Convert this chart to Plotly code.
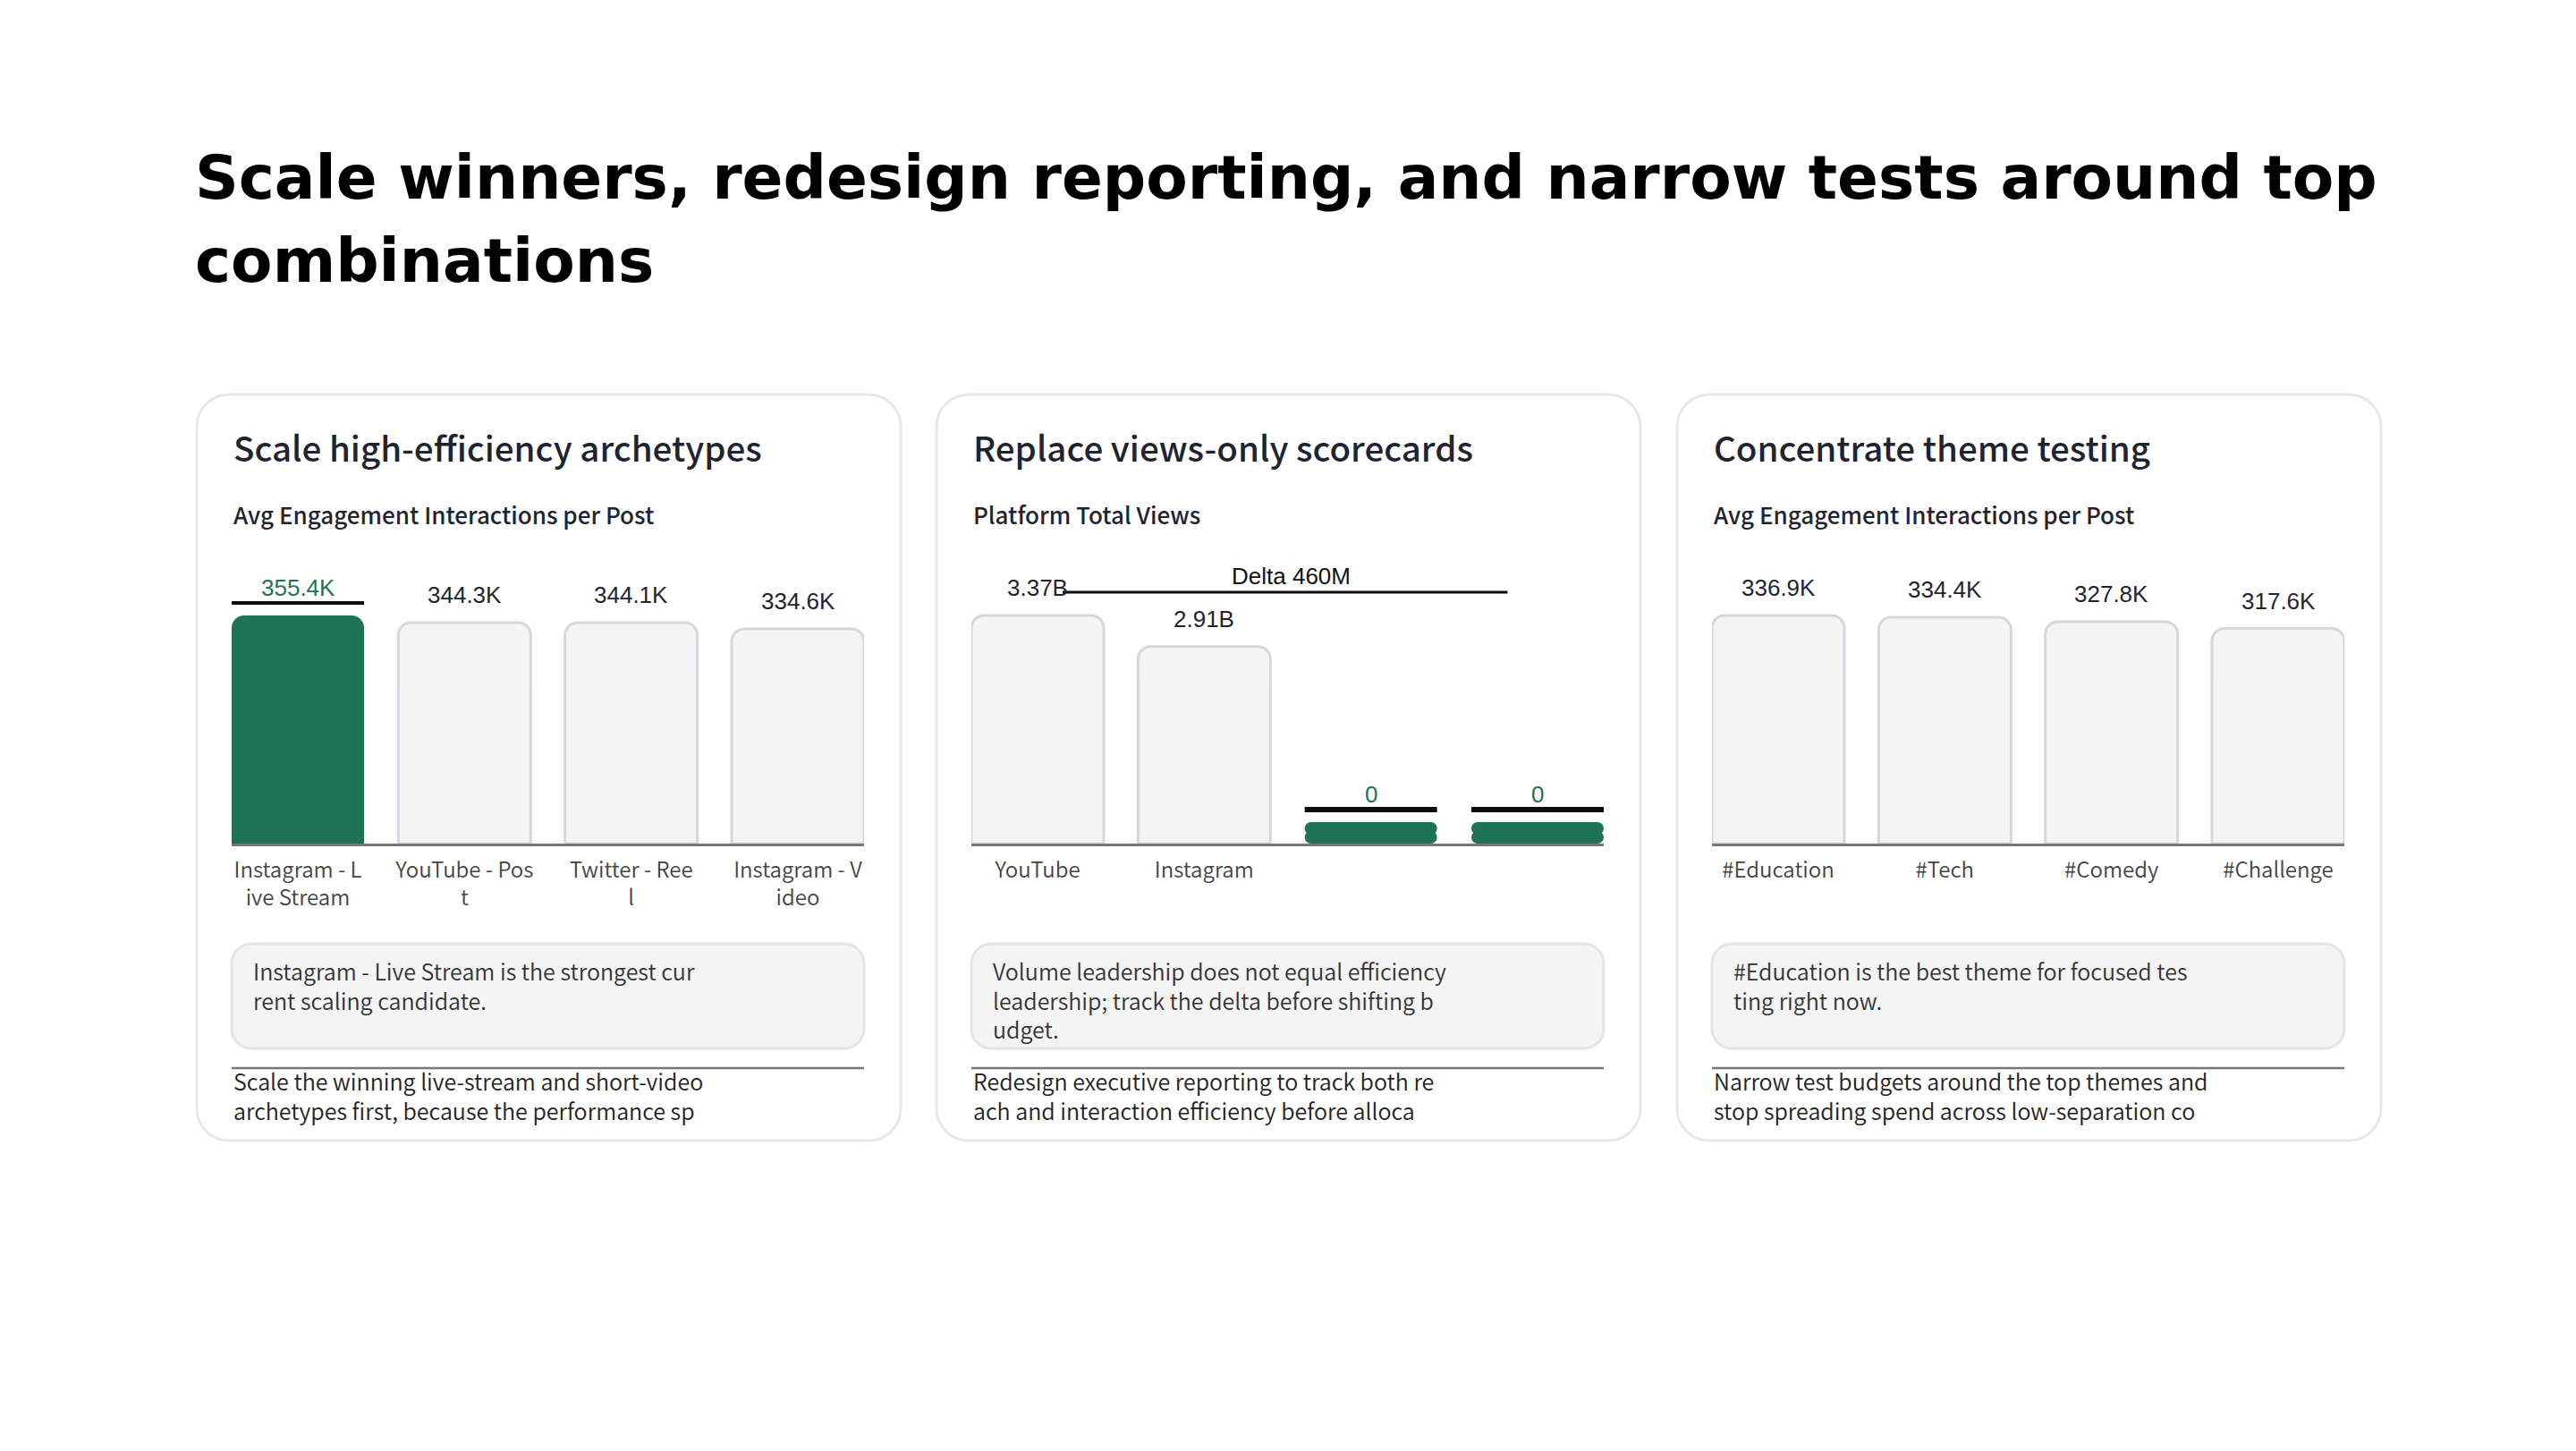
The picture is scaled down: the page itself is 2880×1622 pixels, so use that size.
import plotly.graph_objects as go

W, H = 2880, 1622

headline = ["Scale winners, redesign reporting, and narrow tests around top",
            "combinations"]

card_titles = ["Scale high-efficiency archetypes",
               "Replace views-only scorecards",
               "Concentrate theme testing"]
card_subtitles = ["Avg Engagement Interactions per Post",
                  "Platform Total Views",
                  "Avg Engagement Interactions per Post"]

# card 1: content archetypes (K interactions per post)
archetypes = ["Instagram - Live Stream", "YouTube - Post", "Twitter - Reel", "Instagram - Video"]
archetype_ticks = ["Instagram - L<br>ive Stream", "YouTube - Pos<br>t", "Twitter - Ree<br>l", "Instagram - V<br>ideo"]
archetype_engagement = [355.4, 344.3, 344.1, 334.6]

# card 2: platform total views (B)
platforms = ["YouTube", "Instagram", "", ""]
platform_ticks = ["YouTube", "Instagram", "", ""]
platform_views = [3.37, 2.91, 0, 0]

# card 3: hashtag themes (K interactions per post)
themes = ["#Education", "#Tech", "#Comedy", "#Challenge"]
theme_ticks = ["#Education", "#Tech", "#Comedy", "#Challenge"]
theme_engagement = [336.9, 334.4, 327.8, 317.6]

highlights = [[0], [2, 3], []]

insights = ["Instagram - Live Stream is the strongest cur<br>rent scaling candidate.",
            "Volume leadership does not equal efficiency<br>leadership; track the delta before shifting b<br>udget.",
            "#Education is the best theme for focused tes<br>ting right now."]
footers = ["Scale the winning live-stream and short-video<br>archetypes first, because the performance sp",
           "Redesign executive reporting to track both re<br>ach and interaction efficiency before alloca",
           "Narrow test budgets around the top themes and<br>stop spreading spend across low-separation co"]

GREEN = "#1e7352"
GREY_FILL = "#f4f4f4"
GREY_LINE = "#d5d7dc"
INK = "#1f2433"
TXT = "Noto Sans CJK SC"
NUM = "Liberation Sans"


def fmt_k(v):
    return f"{v:.1f}K"


def fmt_b(v):
    return "0" if v == 0 else f"{v:.2f}B"


series = [
    (archetype_ticks, archetype_engagement, fmt_k),
    (platform_ticks, platform_views, fmt_b),
    (theme_ticks, theme_engagement, fmt_k),
]


def fx(x):
    return x / W


def fy(y):
    return 1 - y / H


def rrect(x0, y0, x1, y1, r):
    k = 0.5523 * r

    def P(x, y):
        return f"{fx(x):.6f},{fy(y):.6f}"
    return (f"M{P(x0 + r, y0)} L{P(x1 - r, y0)} "
            f"C{P(x1 - r + k, y0)} {P(x1, y0 + r - k)} {P(x1, y0 + r)} "
            f"L{P(x1, y1 - r)} C{P(x1, y1 - r + k)} {P(x1 - r + k, y1)} {P(x1 - r, y1)} "
            f"L{P(x0 + r, y1)} C{P(x0 + r - k, y1)} {P(x0, y1 - r + k)} {P(x0, y1 - r)} "
            f"L{P(x0, y0 + r)} C{P(x0, y0 + r - k)} {P(x0 + r - k, y0)} {P(x0 + r, y0)} Z")


fig = go.Figure()
shapes = []
annotations = []

for i, line in enumerate(headline):
    annotations.append(dict(text=line, x=fx(216), y=fy(199 + i * 93), xref="paper", yref="paper",
                            xanchor="left", yanchor="middle", showarrow=False,
                            font=dict(family="DejaVu Sans", size=67.7, color="#000", weight=700)))

card_left = [220, 1047, 1875]
card_w = 787
card_top, card_bot = 441, 1275
content_w = 707
base_y = 943
max_px = 255
head = 1.15
bar_px = 148
pill_px = 24
ul_width = [4, 6, 4]

for c in range(3):
    L = card_left[c]
    cl = L + 39
    cr = cl + content_w
    ticks, vals, fmt = series[c]
    n = len(vals)
    slot = (content_w - bar_px) / (n - 1)
    w = bar_px / slot
    vmax = max(vals)
    ytop = vmax * head
    plot_h = max_px * head
    per_px = ytop / plot_h
    pill = pill_px * per_px

    shapes.append(dict(type="path", path=rrect(L, card_top, L + card_w, card_bot, 36),
                       xref="paper", yref="paper", fillcolor="#ffffff",
                       line=dict(color="#e6e7ea", width=3), layer="below"))

    annotations.append(dict(text=card_titles[c], x=fx(cl), y=fy(499), xref="paper", yref="paper",
                            xanchor="left", yanchor="middle", showarrow=False,
                            font=dict(family=TXT, size=38.5, color=INK, weight=500)))
    annotations.append(dict(text=card_subtitles[c], x=fx(cl), y=fy(575), xref="paper", yref="paper",
                            xanchor="left", yanchor="middle", showarrow=False,
                            font=dict(family=TXT, size=26, color=INK, weight=500)))

    sfx = "" if c == 0 else str(c + 1)
    xa, ya = "x" + sfx, "y" + sfx
    xs = list(range(n))
    hl = highlights[c]
    tall = [j for j in xs if vals[j] > 0]
    zeros = [j for j in xs if vals[j] == 0]

    fig.add_trace(go.Bar(x=tall, y=[vals[j] for j in tall], width=w, xaxis=xa, yaxis=ya,
                         marker=dict(color=[GREEN if j in hl else GREY_FILL for j in tall],
                                     line=dict(color=GREY_LINE, width=[0 if j in hl else 3 for j in tall]),
                                     cornerradius=14),
                         hoverinfo="skip", showlegend=False))
    if zeros:
        # zero values still get a thin rounded pill so the category is visible
        lo, hi = 10 * per_px, 14 * per_px
        fig.add_trace(go.Bar(x=zeros, y=[pill - lo] * len(zeros), base=[lo] * len(zeros), width=w,
                             xaxis=xa, yaxis=ya, marker=dict(color=GREEN, line=dict(width=0), cornerradius=10),
                             hoverinfo="skip", showlegend=False))
        fig.add_trace(go.Bar(x=zeros, y=[-hi] * len(zeros), base=[hi] * len(zeros), width=w,
                             xaxis=xa, yaxis=ya, marker=dict(color=GREEN, line=dict(width=0), cornerradius=10),
                             hoverinfo="skip", showlegend=False))

    for j in xs:
        top = vals[j] if vals[j] > 0 else pill
        annotations.append(dict(text=fmt(vals[j]), x=j, y=top, xref=xa, yref=ya,
                                yshift=31, xanchor="center", yanchor="middle", showarrow=False,
                                font=dict(family=NUM, size=26, color=GREEN if j in hl else INK)))
        if j in hl:
            shapes.append(dict(type="line", xref=xa, yref=ya, x0=j - w / 2, x1=j + w / 2,
                               ysizemode="pixel", yanchor=top, y0=14, y1=14,
                               line=dict(color="#0d0d0d", width=ul_width[c])))

    if c == 1:
        delta = (vals[0] - vals[1]) * 1000
        shapes.append(dict(type="line", xref=xa, yref=ya, x0=0.15, x1=2.82,
                           ysizemode="pixel", yanchor=vals[0], y0=26, y1=26,
                           line=dict(color="#0d0d0d", width=3)))
        annotations.append(dict(text=f"Delta {delta:.0f}M", x=1.52, y=vals[0], xref=xa, yref=ya,
                                yshift=44, xanchor="center", yanchor="middle", showarrow=False,
                                font=dict(family=NUM, size=26, color="#111")))

    fig.layout["xaxis" + sfx] = dict(domain=[fx(cl), fx(cr)], range=[-w / 2, n - 1 + w / 2],
                                     anchor=ya, tickvals=xs, ticktext=ticks, ticks="",
                                     showgrid=False, zeroline=False, showline=True,
                                     linecolor="#777777", linewidth=2.5, layer="below traces",
                                     ticklabelstandoff=6, fixedrange=True,
                                     tickfont=dict(family=TXT, size=24, color="#444", weight=350))
    fig.layout["yaxis" + sfx] = dict(domain=[fy(base_y), fy(base_y - plot_h)], range=[0, ytop],
                                     anchor=xa, visible=False, fixedrange=True)

    shapes.append(dict(type="path", path=rrect(cl, 1055, cr, 1172, 22), xref="paper", yref="paper",
                       fillcolor=GREY_FILL, line=dict(color="#e3e4e7", width=3), layer="below"))
    annotations.append(dict(text=insights[c], x=fx(cl + 22), y=fy(1065), xref="paper", yref="paper",
                            xanchor="left", yanchor="top", align="left", showarrow=False,
                            font=dict(family=TXT, size=25, color="#333", weight=350)))
    shapes.append(dict(type="line", xref="paper", yref="paper", x0=fx(cl), x1=fx(cr),
                       y0=fy(1194), y1=fy(1194), line=dict(color="#777777", width=2.5)))
    annotations.append(dict(text=footers[c], x=fx(cl), y=fy(1188), xref="paper", yref="paper",
                            xanchor="left", yanchor="top", align="left", showarrow=False,
                            font=dict(family=TXT, size=25, color="#222", weight=350)))

fig.update_layout(width=W, height=H, margin=dict(l=0, r=0, t=0, b=0),
                  paper_bgcolor="#ffffff", plot_bgcolor="rgba(0,0,0,0)",
                  barmode="overlay", shapes=shapes, annotations=annotations,
                  font=dict(family=TXT), showlegend=False)

fig.write_html("out.html", config={"displayModeBar": False},
               post_script="document.body.style.margin='0';")
